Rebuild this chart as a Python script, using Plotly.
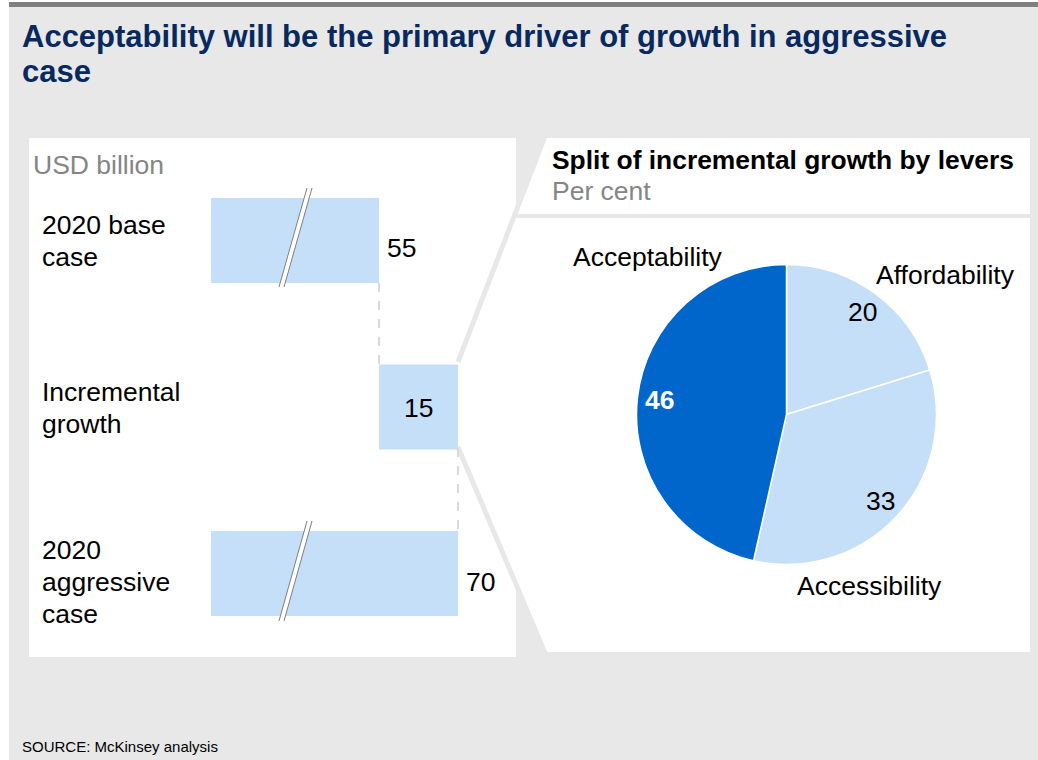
import math
import plotly.graph_objects as go

# ---- data ----
bar_categories = ["2020 base case", "Incremental growth", "2020 aggressive case"]
bar_label_lines = [["2020 base", "case"], ["Incremental", "growth"], ["2020", "aggressive", "case"]]
bar_values = [55, 15, 70]
bar_bases = [0, 55, 0]

lever_names = ["Affordability", "Accessibility", "Acceptability"]
lever_shares = [20, 33, 46]

TITLE_LINES = ["Acceptability will be the primary driver of growth in aggressive", "case"]
UNIT_LEFT = "USD billion"
RIGHT_HEADER = "Split of incremental growth by levers"
UNIT_RIGHT = "Per cent"
SOURCE = "SOURCE: McKinsey analysis"

# ---- styling ----
W, H = 1038, 760
FONT = "Liberation Sans, Arial, Helvetica, sans-serif"
NAVY = "#07295F"
BG_GREY = "#E8E8E8"
LIGHT = "#C5DFF8"
DARK = "#0066CC"
LABEL_GREY = "#858585"
TXT = 26.5


def px(x):
    return x / W


def py(y):
    return 1 - y / H


fig = go.Figure()

# horizontal bars (axis broken on the left, starting at ~23)
fig.add_trace(go.Bar(
    y=bar_categories,
    x=bar_values,
    base=bar_bases,
    orientation="h",
    width=0.51,
    marker=dict(color=LIGHT, line=dict(width=0)),
    hoverinfo="skip",
    showlegend=False,
))

# pie of the incremental growth split
pie_cx, pie_cy, pie_r = 786.5, 414.5, 150
fig.add_trace(go.Pie(
    labels=lever_names,
    values=lever_shares,
    sort=False,
    direction="clockwise",
    rotation=0,
    textinfo="none",
    hoverinfo="skip",
    marker=dict(colors=[LIGHT, LIGHT, DARK], line=dict(color="white", width=1.5)),
    domain=dict(x=[px(pie_cx - pie_r), px(pie_cx + pie_r)],
                y=[py(pie_cy + pie_r), py(pie_cy - pie_r)]),
    showlegend=False,
))

shapes = []
# page background and top rule
shapes.append(dict(type="rect", xref="paper", yref="paper", layer="below",
                   x0=px(9), x1=px(W), y0=py(H), y1=py(7),
                   fillcolor=BG_GREY, line=dict(width=0)))
shapes.append(dict(type="rect", xref="paper", yref="paper", layer="below",
                   x0=px(9), x1=px(W), y0=py(7), y1=py(2),
                   fillcolor="#7F7F7F", line=dict(width=0)))
# left panel
shapes.append(dict(type="rect", xref="paper", yref="paper", layer="below",
                   x0=px(29), x1=px(516), y0=py(657), y1=py(138),
                   fillcolor="white", line=dict(width=0)))
# right panel with callout towards the incremental bar
poly = [(545, 138), (1030, 138), (1030, 652), (545, 652), (458, 447), (458, 362)]
path = "M " + " L ".join(f"{px(a):.5f},{py(b):.5f}" for a, b in poly) + " Z"
shapes.append(dict(type="path", xref="paper", yref="paper", layer="below",
                   path=path, fillcolor="white", line=dict(width=0)))
for (a0, b0), (a1, b1) in [((458, 362), (545, 136)), ((458, 447), (545, 653))]:
    shapes.append(dict(type="line", xref="paper", yref="paper", layer="below",
                       x0=px(a0), y0=py(b0), x1=px(a1), y1=py(b1),
                       line=dict(color=BG_GREY, width=5)))
# header separator in right panel
shapes.append(dict(type="line", xref="paper", yref="paper", layer="below",
                   x0=px(514), x1=px(1030), y0=py(216), y1=py(216),
                   line=dict(color=BG_GREY, width=4)))

# dashed connectors between bars
shapes.append(dict(type="line", xref="x", yref="paper",
                   x0=bar_values[0], x1=bar_values[0], y0=py(283), y1=py(365),
                   line=dict(color="#D9D9D9", width=2, dash="dash")))
shapes.append(dict(type="line", xref="x", yref="paper",
                   x0=bar_bases[1] + bar_values[1], x1=bar_bases[1] + bar_values[1],
                   y0=py(448), y1=py(531),
                   line=dict(color="#D9D9D9", width=2, dash="dash")))

# axis break marks on the long bars
for top, bot in [(188, 287), (521, 621)]:
    tl, tr, bl, br = (307, top), (312, top), (279, bot), (284, bot)
    p = (f"M {px(tl[0])},{py(tl[1])} L {px(tr[0])},{py(tr[1])} "
         f"L {px(br[0])},{py(br[1])} L {px(bl[0])},{py(bl[1])} Z")
    shapes.append(dict(type="path", xref="paper", yref="paper", path=p,
                       fillcolor="white", line=dict(width=0)))
    for (a0, b0), (a1, b1) in [(tl, bl), (tr, br)]:
        shapes.append(dict(type="line", xref="paper", yref="paper",
                           x0=px(a0), y0=py(b0), x1=px(a1), y1=py(b1),
                           line=dict(color="#7F7F7F", width=1)))

annotations = []


def add_text(x, y, text, size=TXT, color="black", bold=False, xanchor="left",
             yanchor="middle", align="left", xref="paper", yref="paper",
             xshift=0, yshift=0):
    if bold:
        text = f"<b>{text}</b>"
    annotations.append(dict(x=x, y=y, xref=xref, yref=yref, text=text,
                            showarrow=False, xanchor=xanchor, yanchor=yanchor,
                            align=align, xshift=xshift, yshift=yshift,
                            font=dict(family=FONT, size=size, color=color)))


# title
add_text(px(20), py(37), TITLE_LINES[0], size=31, color=NAVY, bold=True)
add_text(px(20), py(71), TITLE_LINES[1], size=31, color=NAVY, bold=True)

# left panel texts
add_text(px(31), py(165), UNIT_LEFT, color=LABEL_GREY)
first_line_centres = [225, 392, 550]
for lines, y0 in zip(bar_label_lines, first_line_centres):
    for i, line in enumerate(lines):
        add_text(px(40), py(y0 + 32 * i), line)

# bar value labels
add_text(bar_values[0], bar_categories[0], str(bar_values[0]), xref="x", yref="y",
         xshift=6, yshift=-7)
add_text(bar_bases[1] + bar_values[1] / 2, bar_categories[1], str(bar_values[1]),
         xref="x", yref="y", xanchor="center", yshift=-1)
add_text(bar_values[2], bar_categories[2], str(bar_values[2]), xref="x", yref="y",
         xshift=6, yshift=-8)

# right panel header
add_text(px(550), py(160), RIGHT_HEADER, size=26.4, bold=True)
add_text(px(550), py(191), UNIT_RIGHT, color=LABEL_GREY)

# pie slice values, placed at each slice's mid-angle
total = sum(lever_shares)
cum = 0
for name, v in zip(lever_names, lever_shares):
    mid = (cum + v / 2) / total * 2 * math.pi
    cum += v
    x = pie_cx + 0.85 * pie_r * math.sin(mid)
    y = pie_cy - 0.85 * pie_r * math.cos(mid)
    is_dark = name == "Acceptability"
    add_text(px(x), py(y), str(v), color="white" if is_dark else "black",
             bold=is_dark, xanchor="center")

# pie slice names
name_pos = {"Acceptability": (648, 257), "Affordability": (945, 275),
            "Accessibility": (869, 586)}
for name in lever_names:
    a, b = name_pos[name]
    add_text(px(a), py(b), name, xanchor="center")

# source
add_text(px(20), py(746), SOURCE, size=15)

fig.update_layout(
    width=W, height=H, autosize=False,
    margin=dict(l=0, r=0, t=0, b=0, pad=0),
    paper_bgcolor="white",
    plot_bgcolor="rgba(0,0,0,0)",
    font=dict(family=FONT),
    bargap=0.49,
    xaxis=dict(domain=[px(211), px(516)], range=[23.1, 81.0],
               visible=False, fixedrange=True),
    yaxis=dict(domain=[py(656.75), py(157.25)], range=[2.5, -0.5],
               categoryorder="array", categoryarray=bar_categories,
               visible=False, fixedrange=True),
    shapes=shapes,
    annotations=annotations,
)

fig.write_html("out.html", config={"displayModeBar": False})
